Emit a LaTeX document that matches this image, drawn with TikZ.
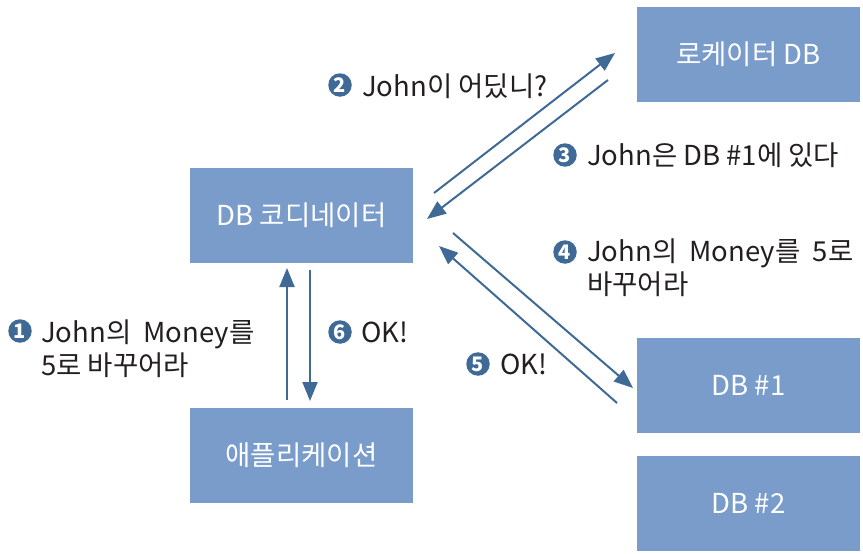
\documentclass[tikz,border=0pt]{standalone}
\usepackage{fontspec}
\setmainfont{Noto Sans CJK KR}
\usetikzlibrary{arrows.meta}
\definecolor{boxblue}{HTML}{799CCB}
\definecolor{arrowblue}{HTML}{3F6A96}
\definecolor{txt}{HTML}{231F20}
\tikzset{
  box/.style={fill=boxblue, draw=none, minimum width=223pt, minimum height=95pt, inner sep=0pt, text=white, font=\fontsize{27.5}{32}\selectfont},
  flow/.style={draw=arrowblue, line width=2pt, -{Triangle[length=19pt,width=15pt]}},
  lbl/.style={anchor=base west, inner sep=0pt, text=txt, align=left, font=\fontsize{27.5}{33}\selectfont},
  num/.style={circle, fill=arrowblue, text=white, minimum size=23.5pt, inner sep=0pt, font=\fontsize{20}{20}\selectfont\bfseries}
}
\begin{document}
\begin{tikzpicture}[x=1pt,y=-1pt]
\useasboundingbox (0,0) rectangle (863,554);
% boxes
\node[box] (coord) at (301.5,215.5) {DB 코디네이터};
\node[box] (app) at (301.5,455.5) {애플리케이션};
\node[box] (loc) at (748.5,54.5) {로케이터 DB};
\node[box] (db1) at (748.5,385) {DB \#1};
\node[box] (db2) at (748.5,503) {DB \#2};
% arrow end points
\coordinate (a1s) at (287,400); \coordinate (a1e) at (287,268);
\coordinate (a6s) at (310,270); \coordinate (a6e) at (310,401);
\coordinate (a2s) at (434,193); \coordinate (a2e) at (615,53);
\coordinate (a3s) at (608,80);  \coordinate (a3e) at (427,219);
\coordinate (a4s) at (453,233); \coordinate (a4e) at (633,388);
\coordinate (a5s) at (617,403); \coordinate (a5e) at (439,246);
\draw[flow] (a1s) -- (a1e);
\draw[flow] (a6s) -- (a6e);
\draw[flow] (a2s) -- (a2e);
\draw[flow] (a3s) -- (a3e);
\draw[flow] (a4s) -- (a4e);
\draw[flow] (a5s) -- (a5e);
% labels
\node[num] (n1) at (20,331) {1};
\node[lbl] (t1) at (41,375) {John의 \ Money를\\5로 바꾸어라};
\node[num] (n2) at (340,85) {2};
\node[lbl] (t2) at (362,96) {John이 어딨니?};
\node[num] (n3) at (565,155) {3};
\node[lbl] (t3) at (587,165) {John은 DB \#1에 있다};
\node[num] (n4) at (565,252) {4};
\node[lbl] (t4) at (587,294) {John의 \ Money를 \ 5로\\바꾸어라};
\node[num] (n5) at (478,364) {5};
\node[lbl] (t5) at (500,374) {OK!};
\node[num] (n6) at (340,332) {6};
\node[lbl] (t6) at (361,342) {OK!};
\end{tikzpicture}
\end{document}
